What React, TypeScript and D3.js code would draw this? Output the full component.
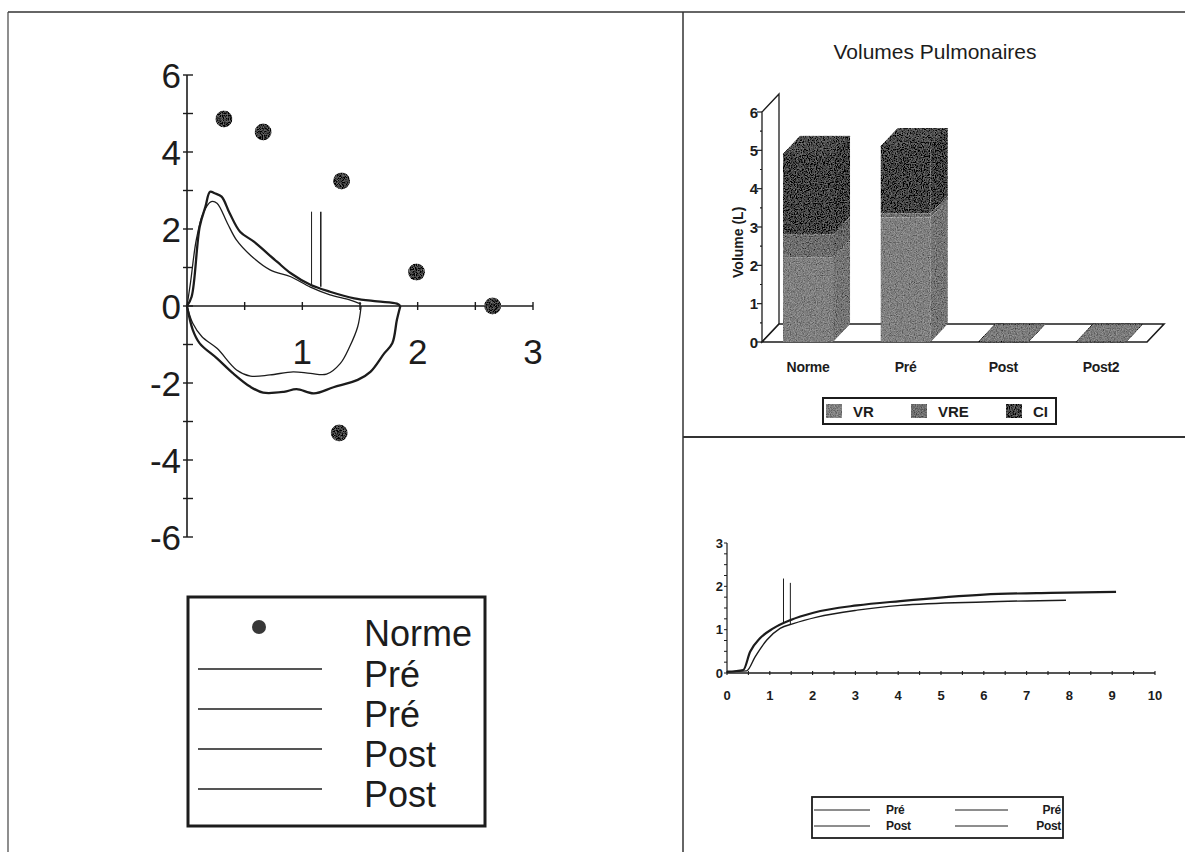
import * as d3 from 'd3';

const FONT = "'Liberation Sans', Arial, Helvetica, sans-serif";
const INK = '#1c1c1c';

// ---- flow / volume loop (left panel) ----
const normeX = [0.32, 0.66, 1.34, 1.99, 2.65, 1.32];
const normeY = [4.86, 4.52, 3.25, 0.88, 0, -3.3];

const preExpiration: [number, number][] = [
  [0, 0], [0.03, 0.6], [0.08, 1.71], [0.14, 2.41], [0.21, 2.71], [0.26, 2.67], [0.35, 2.15],
  [0.43, 1.71], [0.55, 1.32], [0.72, 0.94], [0.9, 0.76], [1.07, 0.49], [1.24, 0.29],
  [1.41, 0.16], [1.51, 0.05],
];
const preInspiration: [number, number][] = [
  [0, 0], [0.05, -0.45], [0.13, -0.8], [0.26, -1.1], [0.43, -1.66], [0.55, -1.82], [0.72, -1.79],
  [0.92, -1.71], [1.07, -1.75], [1.21, -1.77], [1.33, -1.49], [1.41, -1.06], [1.48, -0.54], [1.51, 0],
];
const postExpiration: [number, number][] = [
  [0, 0], [0.04, 0.24], [0.11, 2.06], [0.16, 2.58], [0.2, 2.97], [0.24, 2.93], [0.3, 2.84],
  [0.37, 2.41], [0.46, 1.93], [0.58, 1.67], [0.78, 1.15], [0.9, 0.85], [1.07, 0.55], [1.24, 0.37],
  [1.45, 0.2], [1.65, 0.12], [1.82, 0.06], [1.85, 0],
];
const postInspiration: [number, number][] = [
  [0, 0], [0.05, -0.62], [0.11, -0.97], [0.26, -1.36], [0.4, -1.75], [0.55, -2.1], [0.66, -2.25],
  [0.84, -2.23], [0.95, -2.16], [1.1, -2.27], [1.27, -2.11], [1.48, -1.92], [1.59, -1.71],
  [1.71, -1.23], [1.78, -0.97], [1.82, -0.36], [1.85, 0],
];
const flowMarkerX = [1.08, 1.16];
const flowMarkerTop = [2.45, 2.45];
const flowMarkerBottom = [0.55, 0.5];
const flowYTicks = [6, 4, 2, 0, -2, -4, -6];
const flowXTicks = [1, 2, 3];
const flowLegend = ['Norme', 'Pré', 'Pré', 'Post', 'Post'];

// ---- lung volumes (top right) ----
const categories = ['Norme', 'Pré', 'Post', 'Post2'];
const volumeKeys = ['VR', 'VRE', 'CI'];
const vr = [2.2, 3.25, 0, 0];
const vre = [0.6, 0.1, 0, 0];
const ci = [2.1, 1.75, 0, 0];
const volumeColors = ['#7e7e7e', '#6c6c6c', '#404040'];
const volumeTicks = [0, 1, 2, 3, 4, 5, 6];

// ---- volume / time (bottom right) ----
const preTime: [number, number][] = [
  [0, 0.03], [0.46, 0.05], [0.66, 0.38], [0.93, 0.76], [1.24, 1.03], [1.55, 1.14], [2.1, 1.29],
  [3.04, 1.45], [4.05, 1.56], [6.0, 1.64], [7.92, 1.68],
];
const postTime: [number, number][] = [
  [0, 0.03], [0.38, 0.07], [0.54, 0.49], [0.77, 0.8], [1.08, 1.03], [1.48, 1.22], [2.02, 1.39],
  [3.04, 1.56], [4.05, 1.66], [6.0, 1.81], [7.56, 1.85], [9.09, 1.87],
];
const timeMarkerX = [1.32, 1.48];
const timeMarkerTop = [2.18, 2.08];
const timeMarkerBottom = [1.17, 1.12];
const timeXTicks = [0, 1, 2, 3, 4, 5, 6, 7, 8, 9, 10];
const timeYTicks = [0, 1, 2, 3];

function FlowVolume() {
  const x = d3.scaleLinear().domain([0, 3]).range([187, 533]);
  const y = d3.scaleLinear().domain([-6, 6]).range([537, 75]);
  const line = d3
    .line<[number, number]>()
    .x(d => x(d[0]))
    .y(d => y(d[1]))
    .curve(d3.curveCatmullRom.alpha(0.5));
  const legendRows = [633, 674, 714, 754, 794];

  return (
    <g>
      {/* axes */}
      <line x1={x(0)} x2={x(0)} y1={y(6)} y2={y(-6)} stroke={INK} strokeWidth={1.6} />
      <line x1={x(0)} x2={x(3)} y1={y(0)} y2={y(0)} stroke={INK} strokeWidth={1.6} />
      {d3.range(-6, 7, 1).map(t => (
        <line key={'yt' + t} x1={x(0) - 4} x2={x(0) + 6} y1={y(t)} y2={y(t)} stroke={INK} strokeWidth={1.4} />
      ))}
      {d3.range(0.5, 3.01, 0.5).map(t => (
        <line key={'xt' + t} x1={x(t)} x2={x(t)} y1={y(0) - 4} y2={y(0) + 4} stroke={INK} strokeWidth={1.4} />
      ))}
      {flowYTicks.map(t => (
        <text key={'yl' + t} x={x(0) - 6} y={y(t)} textAnchor="end" dominantBaseline="central"
          fontSize={35} fontFamily={FONT} fill={INK}>{t}</text>
      ))}
      {flowXTicks.map(t => (
        <text key={'xl' + t} x={x(t)} y={y(0) + 45} textAnchor="middle" dominantBaseline="central"
          fontSize={35} fontFamily={FONT} fill={INK}>{t}</text>
      ))}

      {/* markers */}
      {flowMarkerX.map((m, i) => (
        <line key={'m' + i} x1={x(m)} x2={x(m)} y1={y(flowMarkerTop[i])} y2={y(flowMarkerBottom[i])}
          stroke={INK} strokeWidth={i === 0 ? 1 : 1.5} />
      ))}

      {/* loops */}
      <path d={line(preExpiration) ?? ''} fill="none" stroke={INK} strokeWidth={1.3} />
      <path d={line(preInspiration) ?? ''} fill="none" stroke={INK} strokeWidth={1.3} />
      <path d={line(postExpiration) ?? ''} fill="none" stroke={INK} strokeWidth={2.3} />
      <path d={line(postInspiration) ?? ''} fill="none" stroke={INK} strokeWidth={2.3} />

      {normeX.map((v, i) => (
        <circle key={'n' + i} cx={x(v)} cy={y(normeY[i])} r={8.5} fill="#383838" filter="url(#grain)" />
      ))}

      {/* legend */}
      <rect x={188} y={597} width={297} height={229} fill="white" stroke={INK} strokeWidth={3} />
      {flowLegend.map((name, i) => (
        <g key={'lg' + i}>
          {i === 0 ? (
            <circle cx={259} cy={legendRows[0] - 6} r={7} fill="#383838" />
          ) : (
            <line x1={198} x2={322} y1={legendRows[i] - 5} y2={legendRows[i] - 5} stroke={INK} strokeWidth={1.6} />
          )}
          <text x={364} y={legendRows[i]} dominantBaseline="central" fontSize={36} fontFamily={FONT} fill={INK}>
            {name}
          </text>
        </g>
      ))}
    </g>
  );
}

function LungVolumes() {
  const dx = 17;
  const dy = -18;
  const y = d3.scaleLinear().domain([0, 6]).range([342, 112]);
  const x = d3.scaleBand<string>().domain(categories).range([762, 1147]).paddingInner(0.487).paddingOuter(0.215);
  const w = x.bandwidth();
  const rows = categories.map((c, i) => ({ cat: c, VR: vr[i], VRE: vre[i], CI: ci[i] }));
  const stack = d3.stack<any>().keys(volumeKeys)(rows);
  const x0 = 762;
  const x1 = 1147;

  const poly = (pts: number[][]) => pts.map(p => p.join(',')).join(' ');

  return (
    <g>
      <text x={935} y={51} textAnchor="middle" dominantBaseline="central" fontSize={21} fontFamily={FONT} fill={INK}>
        Volumes Pulmonaires
      </text>

      {/* walls and floor */}
      <polygon points={poly([[x0, y(0)], [x0, y(6)], [x0 + dx, y(6) + dy], [x0 + dx, y(0) + dy]])}
        fill="white" stroke={INK} strokeWidth={1.3} />
      <polygon points={poly([[x0, y(0)], [x0 + dx, y(0) + dy], [x1 + dx, y(0) + dy], [x1, y(0)]])}
        fill="white" stroke={INK} strokeWidth={1.6} />
      {d3.range(0, 6.01, 0.5).map(t => (
        <line key={'t' + t} x1={x0 - (t % 1 === 0 ? 5 : 2)} x2={x0} y1={y(t)} y2={y(t)} stroke={INK} strokeWidth={1.2} />
      ))}
      {volumeTicks.map(t => (
        <text key={'l' + t} x={x0 - 4} y={y(t)} textAnchor="end" dominantBaseline="central" fontSize={15}
          fontWeight="bold" fontFamily={FONT} fill={INK}>{t}</text>
      ))}
      <text transform={`translate(738,${y(2.6)}) rotate(-90)`} textAnchor="middle" dominantBaseline="central"
        fontSize={14} fontWeight="bold" fontFamily={FONT} fill={INK}>Volume (L)</text>

      {/* bars */}
      {categories.map((c, i) => {
        const bx = x(c) ?? 0;
        const total = vr[i] + vre[i] + ci[i];
        const segs = stack
          .map((s, k) => ({ k, y0: s[i][0], y1: s[i][1] }))
          .filter(s => s.y1 > s.y0);
        const topColor = segs.length ? volumeColors[segs[segs.length - 1].k] : volumeColors[1];
        return (
          <g key={c}>
            {segs.map(s => (
              <g key={s.k}>
                <rect x={bx} y={y(s.y1)} width={w} height={y(s.y0) - y(s.y1)} fill={volumeColors[s.k]} filter="url(#grain)" />
                <polygon
                  points={poly([[bx + w, y(s.y1)], [bx + w + dx, y(s.y1) + dy], [bx + w + dx, y(s.y0) + dy], [bx + w, y(s.y0)]])}
                  fill={d3.color(volumeColors[s.k])!.darker(0.25).formatHex()} filter="url(#grain)" />
              </g>
            ))}
            <polygon
              points={poly([[bx, y(total)], [bx + dx, y(total) + dy], [bx + w + dx, y(total) + dy], [bx + w, y(total)]])}
              fill={d3.color(topColor)!.brighter(0.35).formatHex()} filter="url(#grain)" stroke="#333" strokeWidth={0.8} />
            <text x={bx + w / 2} y={367} textAnchor="middle" dominantBaseline="central" fontSize={14}
              fontWeight="bold" fontFamily={FONT} fill={INK} letterSpacing={-0.3}>{c}</text>
          </g>
        );
      })}

      {/* legend */}
      <rect x={823} y={398} width={233} height={26} fill="white" stroke={INK} strokeWidth={2} />
      {volumeKeys.map((k, i) => {
        const lx = [826, 911, 1006][i];
        return (
          <g key={k}>
            <rect x={lx} y={404} width={16} height={14} fill={volumeColors[i]} filter="url(#grain)" />
            <text x={lx + 27} y={411} dominantBaseline="central" fontSize={15} fontWeight="bold"
              fontFamily={FONT} fill={INK}>{k}</text>
          </g>
        );
      })}
    </g>
  );
}

function VolumeTime() {
  const x = d3.scaleLinear().domain([0, 10]).range([727, 1155]);
  const y = d3.scaleLinear().domain([0, 3]).range([673, 543]);
  const line = d3
    .line<[number, number]>()
    .x(d => x(d[0]))
    .y(d => y(d[1]))
    .curve(d3.curveMonotoneX);

  return (
    <g>
      <line x1={x(0)} x2={x(10)} y1={y(0)} y2={y(0)} stroke={INK} strokeWidth={1.4} />
      <line x1={x(0)} x2={x(0)} y1={y(0)} y2={y(3)} stroke={INK} strokeWidth={1.2} />
      {d3.range(0, 10.01, 0.5).map(t => (
        <line key={'xt' + t} x1={x(t)} x2={x(t)} y1={y(0) - 2} y2={y(0) + 2} stroke={INK} strokeWidth={1.1} />
      ))}
      {d3.range(0, 3.01, 0.25).map(t => (
        <line key={'yt' + t} x1={x(0) - 3} x2={x(0)} y1={y(t)} y2={y(t)} stroke={INK} strokeWidth={1} />
      ))}
      {timeXTicks.map(t => (
        <text key={'xl' + t} x={x(t)} y={y(0) + 22} textAnchor="middle" dominantBaseline="central"
          fontSize={13} fontWeight="bold" fontFamily={FONT} fill={INK}>{t}</text>
      ))}
      {timeYTicks.map(t => (
        <text key={'yl' + t} x={x(0) - 4} y={y(t)} textAnchor="end" dominantBaseline="central"
          fontSize={13} fontWeight="bold" fontFamily={FONT} fill={INK}>{t}</text>
      ))}

      {timeMarkerX.map((m, i) => (
        <line key={'m' + i} x1={x(m)} x2={x(m)} y1={y(timeMarkerTop[i])} y2={y(timeMarkerBottom[i])}
          stroke={INK} strokeWidth={1} />
      ))}
      <path d={line(preTime) ?? ''} fill="none" stroke={INK} strokeWidth={1.4} />
      <path d={line(postTime) ?? ''} fill="none" stroke={INK} strokeWidth={2.2} />

      <rect x={812} y={797} width={251} height={41} fill="white" stroke={INK} strokeWidth={1.8} />
      {[['Pré', 810], ['Post', 826]].map(([name, ry]) => (
        <g key={name as string}>
          <line x1={814} x2={870} y1={ry as number} y2={ry as number} stroke={INK} strokeWidth={1} />
          <text x={886} y={ry as number} dominantBaseline="central" fontSize={12} fontWeight="bold"
            fontFamily={FONT} fill={INK} letterSpacing={-0.3}>{name}</text>
          <line x1={955} x2={1008} y1={ry as number} y2={ry as number} stroke={INK} strokeWidth={1} />
          <text x={1061} y={ry as number} textAnchor="end" dominantBaseline="central" fontSize={12} fontWeight="bold"
            fontFamily={FONT} fill={INK} letterSpacing={-0.3}>{name}</text>
        </g>
      ))}
    </g>
  );
}

export default function App() {
  return (
    <svg width={1185} height={852} style={{ position: 'absolute', left: 0, top: 0, background: 'white' }}>
      <defs>
        <filter id="grain" x="-5%" y="-5%" width="110%" height="110%">
          <feTurbulence type="fractalNoise" baseFrequency="0.85" numOctaves={2} seed={4} result="noise" />
          <feColorMatrix in="noise" type="matrix"
            values="1 0 0 0 0  1 0 0 0 0  1 0 0 0 0  0 0 0 0 1" result="grayNoise" />
          <feComposite in="SourceGraphic" in2="grayNoise" operator="arithmetic" k1={0} k2={1} k3={0.45} k4={-0.22} result="mix" />
          <feComposite in="mix" in2="SourceGraphic" operator="in" />
        </filter>
      </defs>

      {/* frame */}
      <line x1={8} x2={1185} y1={12} y2={12} stroke="#333" strokeWidth={1.5} />
      <line x1={8} x2={8} y1={12} y2={852} stroke="#444" strokeWidth={1.2} />
      <line x1={683} x2={683} y1={12} y2={852} stroke="#333" strokeWidth={1.5} />
      <line x1={683} x2={1185} y1={437} y2={437} stroke="#333" strokeWidth={1.8} />

      <FlowVolume />
      <LungVolumes />
      <VolumeTime />
    </svg>
  );
}
